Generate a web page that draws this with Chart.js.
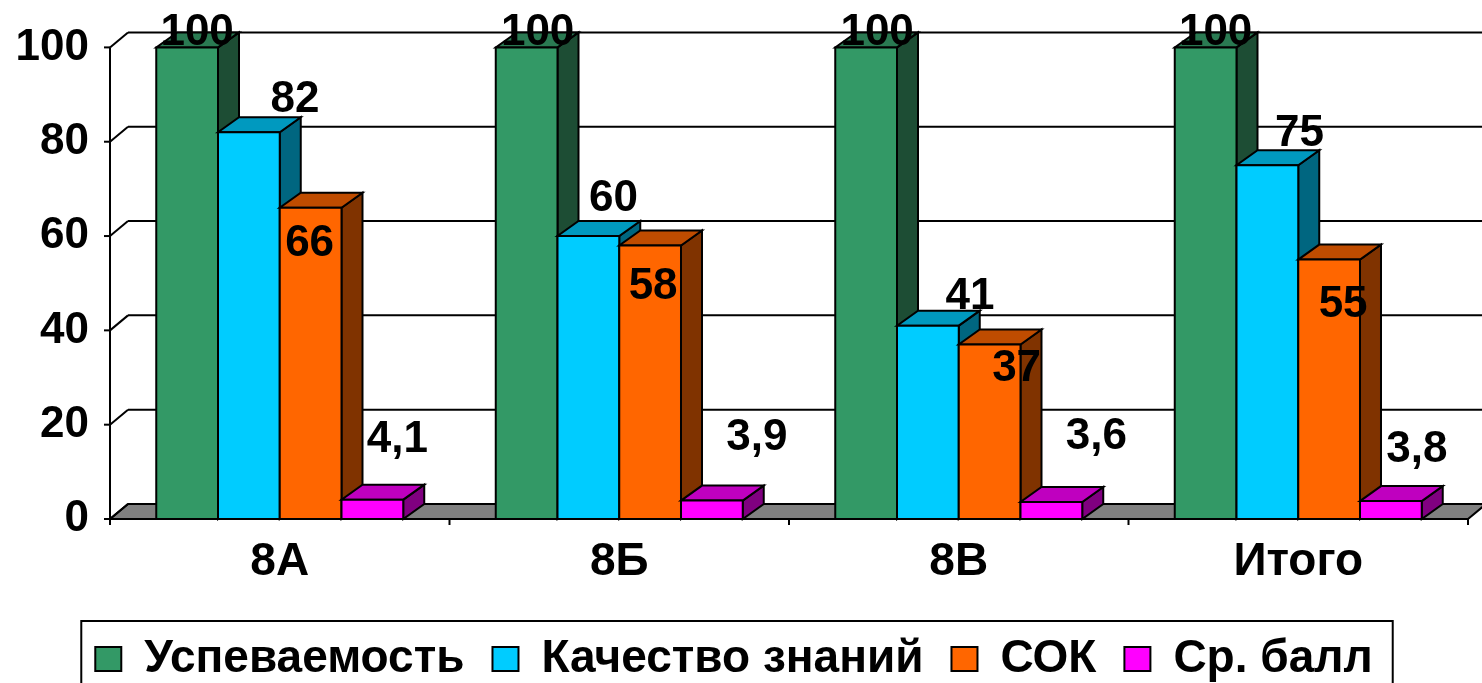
<!DOCTYPE html>
<html>
<head>
<meta charset="utf-8">
<script src="https://cdn.jsdelivr.net/npm/chart.js@4/dist/chart.umd.min.js"></script>
<style>
  html, body { margin: 0; padding: 0; background: #fff; overflow: hidden; }
  #wrap { width: 1482px; height: 692px; position: relative; }
</style>
</head>
<body>
<div id="wrap"><canvas id="chart"></canvas></div>
<script>
// Classes and series
const categories = ['8А', '8Б', '8В', 'Итого'];
const seriesNames = ['Успеваемость', 'Качество знаний', 'СОК', 'Ср. балл'];
const uspevaemost = [100, 100, 100, 100];
const kachestvo = [82, 60, 41, 75];
const sok = [66, 58, 37, 55];
const srBall = [4.1, 3.9, 3.6, 3.8];
const yTickValues = [0, 20, 40, 60, 80, 100];

// Face colours of the 3D boxes: front, top, side
const faces = [
  { front: '#339966', top: '#2a7a52', side: '#1d4d34' },
  { front: '#00ccff', top: '#0099bf', side: '#006680' },
  { front: '#ff6600', top: '#bf4c00', side: '#803300' },
  { front: '#ff00ff', top: '#bf00bf', side: '#800080' }
];

// Depth of the boxes and of the walls, in pixels
const BAR_DX = 21, BAR_DY = -15;
const WALL_DX = 18, WALL_DY = -15;
const PLOT_BOTTOM = 519;
const FONT = "'Liberation Sans', Arial, sans-serif";

// Where each value label sits relative to the top-front corner centre of its box
const labelShift = [
  [[10, -15], [11, -15], [11, -15], [10, -15]],
  [[46, -32], [25, -37], [42, -29], [32, -31]],
  [[-1, 36], [3, 41], [27, 24], [14, 45]],
  [[25, -60], [45, -63], [45, -65], [26, -51]]
];

const fmt = v => String(v).replace('.', ',');

function poly(ctx, pts, fill) {
  ctx.beginPath();
  ctx.moveTo(pts[0][0], pts[0][1]);
  for (let i = 1; i < pts.length; i++) ctx.lineTo(pts[i][0], pts[i][1]);
  ctx.closePath();
  ctx.fillStyle = fill;
  ctx.fill();
  ctx.stroke();
}

function line(ctx, x0, y0, x1, y1) {
  ctx.beginPath();
  ctx.moveTo(x0, y0);
  ctx.lineTo(x1, y1);
  ctx.stroke();
}

const scene3d = {
  id: 'scene3d',
  beforeDatasetsDraw(chart) {
    const ctx = chart.ctx;
    const { left, right, bottom } = chart.chartArea;
    const ys = chart.scales.y, xs = chart.scales.x;
    ctx.save();
    ctx.strokeStyle = '#000';
    ctx.lineWidth = 2;
    ctx.lineJoin = 'miter';

    // floor
    poly(ctx, [[left, bottom], [right, bottom], [right + WALL_DX, bottom + WALL_DY], [left + WALL_DX, bottom + WALL_DY]], '#808080');

    // back-wall grid lines, side-wall diagonals and tick marks
    yTickValues.forEach(v => {
      const py = ys.getPixelForValue(v);
      line(ctx, left + WALL_DX, py + WALL_DY, chart.width, py + WALL_DY);
      line(ctx, left, py, left + WALL_DX, py + WALL_DY);
      line(ctx, left - 6, py, left, py);
    });

    // value axis and category axis
    line(ctx, left, ys.getPixelForValue(100), left, bottom);
    line(ctx, left, bottom, right, bottom);
    for (let i = 0; i <= categories.length; i++) {
      const px = xs.getPixelForValue(i - 0.5);
      line(ctx, px, bottom, px, bottom + 6);
    }

    // boxes
    const n = chart.data.datasets.length;
    for (let i = 0; i < categories.length; i++) {
      for (let d = 0; d < n; d++) {
        const el = chart.getDatasetMeta(d).data[i];
        const x0 = el.x - el.width / 2, x1 = el.x + el.width / 2;
        const yt = el.y, yb = el.base;
        const f = faces[d];
        poly(ctx, [[x1, yt], [x1 + BAR_DX, yt + BAR_DY], [x1 + BAR_DX, yb + BAR_DY], [x1, yb]], f.side);
        poly(ctx, [[x0, yt], [x1, yt], [x1 + BAR_DX, yt + BAR_DY], [x0 + BAR_DX, yt + BAR_DY]], f.top);
        poly(ctx, [[x0, yt], [x1, yt], [x1, yb], [x0, yb]], f.front);
      }
    }

    // value labels
    ctx.fillStyle = '#000';
    ctx.font = 'bold 44px ' + FONT;
    ctx.textAlign = 'center';
    ctx.textBaseline = 'middle';
    for (let d = 0; d < n; d++) {
      const values = chart.data.datasets[d].data;
      chart.getDatasetMeta(d).data.forEach((el, i) => {
        const s = labelShift[d][i];
        ctx.fillText(fmt(values[i]), el.x + s[0], el.y + s[1]);
      });
    }
    ctx.restore();
    return false;
  },
  afterDraw(chart) {
    // frame round the legend
    const hb = chart.legend && chart.legend.legendHitBoxes;
    if (!hb || !hb.length) return;
    const first = hb[0], last = hb[hb.length - 1];
    const ctx = chart.ctx;
    const x0 = first.left - 14, x1 = last.left + last.width + 20;
    ctx.save();
    ctx.strokeStyle = '#000';
    ctx.lineWidth = 2;
    ctx.strokeRect(x0, first.top - 15, x1 - x0, chart.height);
    ctx.restore();
  }
};

const datasets = [uspevaemost, kachestvo, sok, srBall].map((vals, d) => ({
  label: seriesNames[d],
  data: vals,
  backgroundColor: faces[d].front,
  borderColor: '#000',
  borderWidth: 2,
  categoryPercentage: 0.7275,
  barPercentage: 1
}));

new Chart(document.getElementById('chart'), {
  type: 'bar',
  data: { labels: categories, datasets },
  options: {
    responsive: true,
    maintainAspectRatio: false,
    animation: false,
    events: [],
    layout: { padding: { top: 45, right: 14, left: 0, bottom: 0 } },
    plugins: {
      tooltip: { enabled: false },
      legend: {
        position: 'bottom',
        labels: {
          color: '#000',
          font: { family: FONT, size: 46, weight: 'bold' },
          boxWidth: 26,
          boxHeight: 24,
          padding: 28
        }
      }
    },
    scales: {
      x: {
        grid: { display: false, drawTicks: false },
        border: { display: false },
        ticks: { color: '#000', font: { family: FONT, size: 46, weight: 'bold' }, padding: 16 },
        afterFit(s) { s.height = s.chart.height - s.chart.legend.height - PLOT_BOTTOM; }
      },
      y: {
        min: 0,
        max: 100,
        grid: { display: false, drawTicks: false },
        border: { display: false },
        ticks: { stepSize: 20, color: '#000', font: { family: FONT, size: 44, weight: 'bold' }, padding: 21 },
        afterFit(s) { s.width = 110; }
      }
    }
  },
  plugins: [scene3d]
});
</script>
</body>
</html>
